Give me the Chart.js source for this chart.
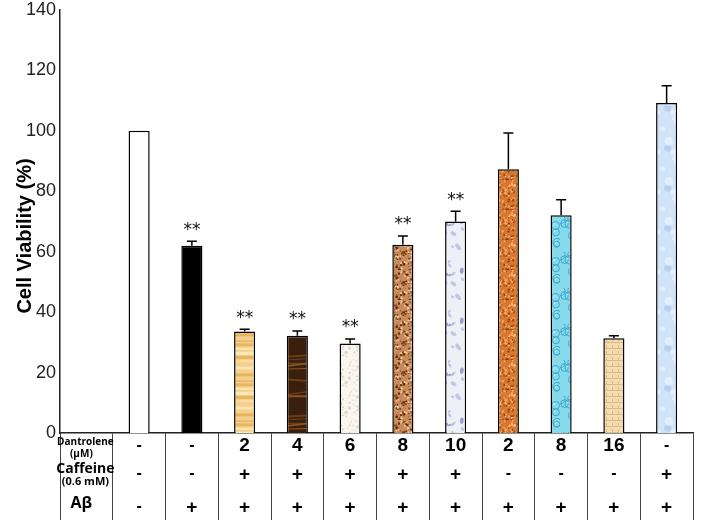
<!DOCTYPE html>
<html>
<head>
<meta charset="utf-8">
<script src="https://cdn.jsdelivr.net/npm/chart.js@4.4.1/dist/chart.umd.min.js"></script>
<style>
  html, body { margin: 0; padding: 0; background: #ffffff; }
  #wrap { width: 704px; height: 528px; }
</style>
</head>
<body>
<div id="wrap"><canvas id="c" width="704" height="528"></canvas></div>
<script>
// ---- data ----
const dantrolene = ['-', '-', '2', '4', '6', '8', '10', '2', '8', '16', '-'];
const caffeine   = ['-', '-', '+', '+', '+', '+', '+', '-', '-', '-', '+'];
const abeta      = ['-', '+', '+', '+', '+', '+', '+', '+', '+', '+', '+'];
const viability  = [100, 62, 33.6, 32.2, 29.6, 62.3, 70, 87.3, 72.1, 31.4, 109.2];
const errorUp    = [0, 1.5, 0.7, 1.6, 1.5, 2.9, 3.4, 12, 5.1, 0.8, 5.7];
const signif     = ['', '**', '**', '**', '**', '**', '**', '', '', '', ''];
const yTicks     = [0, 20, 40, 60, 80, 100, 120, 140];
const yTitle     = 'Cell Viability (%)';

// ---- textures (style only) ----
let seed = 12345;
function rnd() { seed = (seed * 16807) % 2147483647; return (seed - 1) / 2147483646; }
function makePattern(base, w, h, draw) {
  const c = document.createElement('canvas');
  c.width = w; c.height = h;
  const g = c.getContext('2d');
  g.fillStyle = base; g.fillRect(0, 0, w, h);
  draw(g, w, h);
  return g.createPattern(c, 'repeat');
}
function specks(g, w, h, colors, n, size) {
  for (let i = 0; i < n; i++) {
    g.fillStyle = colors[Math.floor(rnd() * colors.length)];
    const s = size * (0.5 + rnd());
    g.fillRect(rnd() * w, rnd() * h, s, s);
  }
}
const fills = [
  '#ffffff',
  '#000000',
  makePattern('#f4d08c', 24, 40, (g, w, h) => {
    for (let i = 0; i < 14; i++) {
      g.fillStyle = rnd() > 0.5 ? '#e8b45e' : '#fbe6b8';
      g.fillRect(0, rnd() * h, w, 1 + rnd() * 2);
    }
  }),
  makePattern('#3a200c', 24, 60, (g, w, h) => {
    for (let i = 0; i < 8; i++) {
      g.strokeStyle = rnd() > 0.5 ? '#8a5424' : '#6a3c18';
      g.lineWidth = 1 + rnd() * 1.5;
      const y = rnd() * h;
      g.beginPath(); g.moveTo(0, y); g.lineTo(w, y + (rnd() - 0.5) * 8); g.stroke();
    }
  }),
  makePattern('#f8f6ee', 30, 30, (g, w, h) => specks(g, w, h, ['#ddd6c4', '#e8e2d2', '#cfc7b2'], 60, 1.5)),
  makePattern('#c88a58', 30, 30, (g, w, h) => specks(g, w, h, ['#5a2e10', '#7a4218', '#ecc69a', '#f2d4ae'], 160, 1.4)),
  makePattern('#eef0f8', 28, 50, (g, w, h) => {
    for (let i = 0; i < 14; i++) {
      g.fillStyle = rnd() > 0.5 ? 'rgba(90,100,170,0.55)' : 'rgba(150,158,205,0.5)';
      g.beginPath();
      g.ellipse(rnd() * w, rnd() * h, 1 + rnd() * 3, 0.8 + rnd() * 1.2, rnd() * 3, 0, Math.PI * 2);
      g.fill();
    }
  }),
  makePattern('#d8782e', 30, 30, (g, w, h) => specks(g, w, h, ['#8a3e10', '#a85018', '#f4a868', '#f8c08a'], 170, 1.4)),
  makePattern('#86daec', 28, 36, (g, w, h) => {
    for (let i = 0; i < 9; i++) {
      const x = rnd() * w, y = rnd() * h, r = 1.5 + rnd() * 3;
      g.strokeStyle = '#3ea8cc'; g.lineWidth = 1;
      g.beginPath(); g.arc(x, y, r, 0, Math.PI * 2); g.stroke();
      g.fillStyle = 'rgba(255,255,255,0.8)';
      g.fillRect(x - r / 2, y - r / 2, 1.2, 1.2);
    }
  }),
  makePattern('#f4dcae', 6, 6, (g, w, h) => {
    g.fillStyle = '#dcbc86';
    g.fillRect(0, 0, 6, 1); g.fillRect(0, 3, 1, 3);
  }),
  makePattern('#d0e3f7', 30, 40, (g, w, h) => {
    for (let i = 0; i < 12; i++) {
      g.fillStyle = rnd() > 0.5 ? 'rgba(170,200,236,0.7)' : 'rgba(230,240,252,0.8)';
      g.beginPath(); g.arc(rnd() * w, rnd() * h, 1.5 + rnd() * 3, 0, Math.PI * 2); g.fill();
    }
  })
];

// ---- chart ----
const labels = [''].concat(dantrolene);
const dataVals = [null].concat(viability);

const tablePlugin = {
  id: 'tablePlugin',
  afterDraw(chart) {
    const ctx = chart.ctx;
    const x = chart.scales.x, y = chart.scales.y;
    const meta = chart.getDatasetMeta(0);
    ctx.save();
    // error bars
    ctx.strokeStyle = '#000'; ctx.lineWidth = 1.5;
    viability.forEach((v, i) => {
      const bar = meta.data[i + 1];
      if (!bar || !errorUp[i]) return;
      const px = bar.x;
      const y0 = y.getPixelForValue(v), y1 = y.getPixelForValue(v + errorUp[i]);
      ctx.beginPath();
      ctx.moveTo(px, y0); ctx.lineTo(px, y1);
      ctx.moveTo(px - 5, y1); ctx.lineTo(px + 5, y1);
      ctx.stroke();
    });
    // significance stars
    ctx.fillStyle = '#111';
    ctx.font = '17px "DejaVu Sans"';
    ctx.textAlign = 'center'; ctx.textBaseline = 'middle';
    signif.forEach((s, i) => {
      if (!s) return;
      const px = meta.data[i + 1].x;
      const yt = y.getPixelForValue(viability[i] + errorUp[i]);
      ctx.fillText(s, px, yt - 11);
    });
    // y-axis title
    ctx.save();
    ctx.translate(25, 236);
    ctx.rotate(-Math.PI / 2);
    ctx.font = 'bold 20px "Liberation Sans"';
    ctx.fillStyle = '#000';
    ctx.fillText(yTitle, 0, 0);
    ctx.restore();
    // table body
    const rowY = [446, 474, 507];
    ctx.fillStyle = '#000';
    ctx.textBaseline = 'middle';
    ctx.textAlign = 'center';
    [dantrolene, caffeine, abeta].forEach((row, r) => {
      row.forEach((t, i) => {
        const px = x.getPixelForValue(i + 1);
        ctx.font = (t === '-') ? 'bold 16px "Liberation Sans"' : 'bold 19px "Liberation Sans"';
        ctx.fillText(t, px, rowY[r] + (t === '+' ? 1 : 0));
      });
    });
    // row headers
    const hx = x.getPixelForValue(0) - 1;
    ctx.font = 'bold 10px "Open Sans"';
    ctx.fillText('Dantrolene', hx, 442);
    ctx.fillText('(µM)', hx - 4, 454);
    ctx.font = 'bold 14px "Open Sans"';
    ctx.fillText('Caffeine', hx, 469);
    ctx.font = 'bold 11px "Open Sans"';
    ctx.fillText('(0.6 mM)', hx, 482);
    ctx.font = 'bold 16px "Open Sans"';
    ctx.fillText('Aβ', hx - 4, 503);
    ctx.restore();
  }
};

new Chart(document.getElementById('c'), {
  type: 'bar',
  data: {
    labels: labels,
    datasets: [{
      data: dataVals,
      backgroundColor: [null].concat(fills),
      borderColor: '#000',
      borderWidth: 1.5,
      borderSkipped: 'bottom',
      barPercentage: 0.4,
      categoryPercentage: 1.0
    }]
  },
  options: {
    responsive: false,
    animation: false,
    devicePixelRatio: 1,
    layout: { padding: { top: 10, right: 11, bottom: 8, left: 0 } },
    plugins: { legend: { display: false }, tooltip: { enabled: false } },
    scales: {
      x: {
        offset: true,
        grid: { display: true, offset: true, drawOnChartArea: false, drawTicks: true, tickLength: 87, color: '#444', lineWidth: 1 },
        border: { display: true, color: '#222', width: 1.5 },
        ticks: { display: false }
      },
      y: {
        min: 0, max: 140,
        afterBuildTicks: (s) => { s.ticks = yTicks.map(v => ({ value: v })); },
        afterFit: (s) => { s.width = 60; s.paddingTop = 0; s.paddingBottom = 0; },
        grid: { display: false, drawTicks: false },
        border: { display: true, color: '#222', width: 1.5 },
        ticks: { color: '#222', font: { family: '"Liberation Sans", Arial', size: 18 }, padding: 4 },
        title: { display: false }
      }
    }
  },
  plugins: [tablePlugin]
});
</script>
</body>
</html>
